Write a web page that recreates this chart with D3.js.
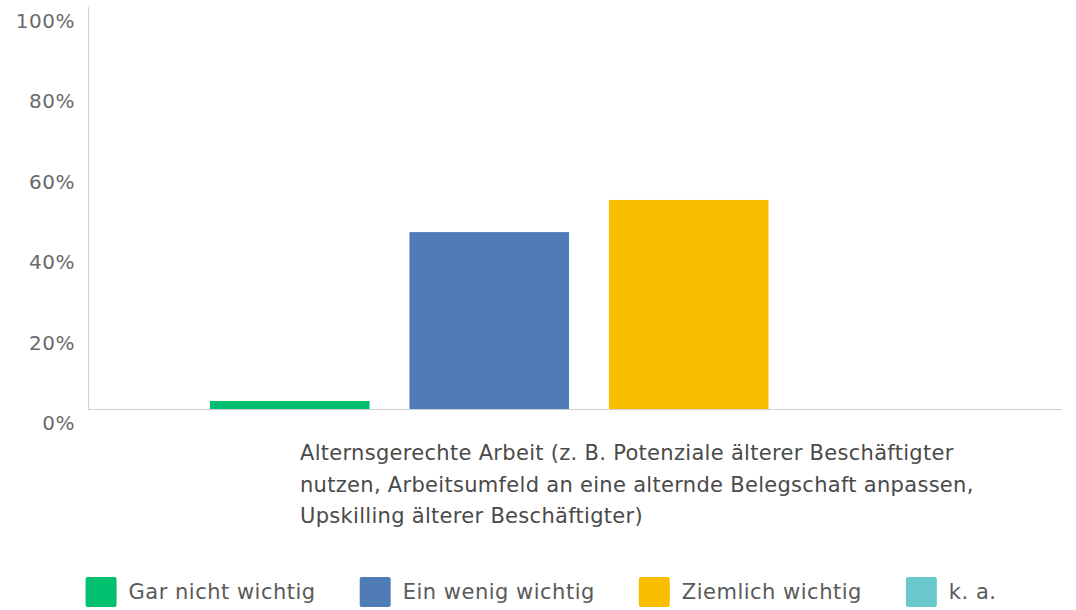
<!DOCTYPE html>
<html>
<head>
<meta charset="utf-8">
<script src="https://cdn.jsdelivr.net/npm/d3@7"></script>
<style>
  body { margin: 0; background: #fff; }
  svg { font-family: "DejaVu Sans", "Noto Sans", sans-serif; }
</style>
</head>
<body>
<div id="chart"></div>
<script>
// survey answers for one question, share of respondents in percent
let series = ["Gar nicht wichtig", "Ein wenig wichtig", "Ziemlich wichtig", "k. a."];
let values = [2, 44, 52, 0];
let colors = ["#00bf6f", "#507cb6", "#f9be00", "#6bc8cd"];
let yTicks = [0, 20, 40, 60, 80, 100];
let categoryLines = [
    "Alternsgerechte Arbeit (z. B. Potenziale älterer Beschäftigter",
    "nutzen, Arbeitsumfeld an eine alternde Belegschaft anpassen,",
    "Upskilling älterer Beschäftigter)"
];

let width = 1076, height = 610;

let svg = d3.select("#chart")
    .append("svg")
    .attr("width", width)
    .attr("height", height);

let y = d3.scaleLinear().domain([0, 100]).range([409, 7]);
let x = d3.scaleBand().domain(series).range([190, 988]).paddingInner(0.2).paddingOuter(0.1);

// y axis labels (drawn a bit below their value line, like the original)
svg.selectAll(".yLabel")
    .data(yTicks)
    .enter().append("text")
    .attr("x", 75)
    .attr("y", d => y(d) + 14)
    .attr("dy", "0.35em")
    .style("text-anchor", "end")
    .style("font-size", "20px")
    .style("letter-spacing", "0.5px")
    .style("fill", "#6a6a6a")
    .text(d => d + "%");

svg.append("line")
    .attr("x1", 88.5).attr("x2", 88.5)
    .attr("y1", y(100)).attr("y2", y(0))
    .style("stroke", "#d4d4d4");

svg.selectAll(".bar")
    .data(values)
    .enter().append("rect")
    .attr("x", (d, i) => x(series[i]))
    .attr("y", d => y(d))
    .attr("width", x.bandwidth())
    .attr("height", d => y(0) - y(d))
    .style("fill", (d, i) => colors[i]);

svg.append("line")
    .attr("x1", 88).attr("x2", 1062)
    .attr("y1", y(0) + 0.5).attr("y2", y(0) + 0.5)
    .style("stroke", "#cfcfcf");

svg.append("text")
    .attr("x", 300)
    .attr("y", 460)
    .style("font-size", "21px")
    .style("letter-spacing", "0.3px")
    .style("fill", "#4a4a4a")
    .selectAll("tspan")
    .data(categoryLines)
    .enter().append("tspan")
    .attr("x", 300)
    .attr("dy", (d, i) => i ? 31.7 : 0)
    .text(d => d);

// legend, centred under the chart
let legend = svg.append("g");
let items = legend.selectAll(".item")
    .data(series)
    .enter().append("g");
items.append("rect")
    .attr("width", 31).attr("height", 30)
    .attr("y", 577)
    .attr("rx", 2)
    .style("fill", (d, i) => colors[i]);
items.append("text")
    .attr("x", 43)
    .attr("y", 592)
    .attr("dy", "0.35em")
    .style("font-size", "21px")
    .style("letter-spacing", "0.5px")
    .style("fill", "#5a5a5a")
    .text(d => d);

let pos = 0;
items.each(function () {
    let w = d3.select(this).select("text").node().getComputedTextLength();
    d3.select(this).attr("transform", "translate(" + pos + ",0)");
    pos += 43 + w + 44;
});
let total = pos - 44;
legend.attr("transform", "translate(" + (541 - total / 2) + ",0)");
</script>
</body>
</html>
